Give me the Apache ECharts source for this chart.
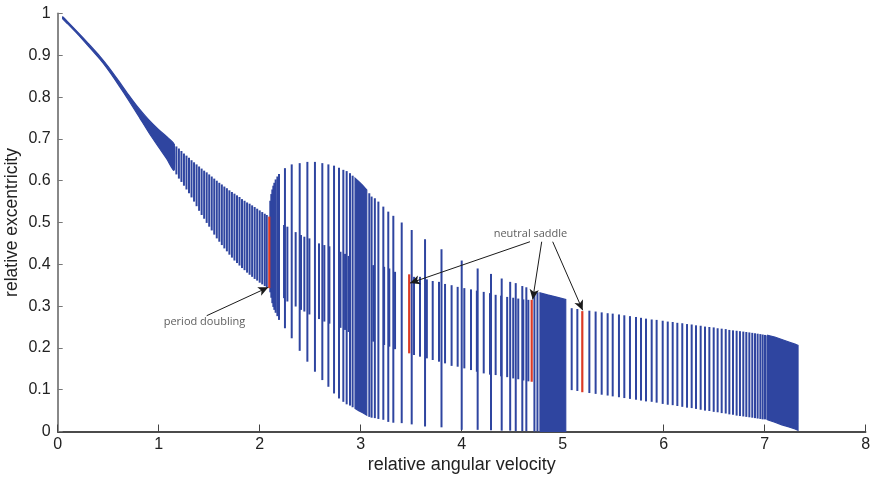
<!DOCTYPE html>
<html><head><meta charset="utf-8">
<script src="https://cdn.jsdelivr.net/npm/echarts@6/dist/echarts.min.js"></script>
<style>html,body{margin:0;padding:0;background:#fff}#c{width:874px;height:480px}</style>
</head><body><div id="c"></div>
<script>
// ---- tick labels ----
const xTickLabels = ['0','1','2','3','4','5','6','7','8'];
const yTickLabels = ['0','0.1','0.2','0.3','0.4','0.5','0.6','0.7','0.8','0.9','1'];

// ---- main branch bars (x, upper, lower) ----
const mainX = [1.150,1.175,1.200,1.225,1.250,1.275,1.300,1.325,1.350,1.375,1.400,1.425,1.450,1.475,1.500,1.525,1.550,1.575,1.600,1.625,1.650,1.675,1.700,1.725,1.750,1.775,1.800,1.825,1.850,1.875,1.900,1.925,1.950,1.975,2.000,2.025,2.050,2.070,
  2.105,2.115,2.125,2.135,2.145,2.158,2.175];
const mainHi = [0.688,0.682,0.677,0.671,0.665,0.660,0.655,0.649,0.644,0.639,0.634,0.629,0.624,0.620,0.615,0.610,0.605,0.600,0.595,0.591,0.586,0.582,0.577,0.573,0.569,0.565,0.561,0.556,0.552,0.548,0.545,0.541,0.537,0.533,0.529,0.525,0.521,0.518,
  0.552,0.568,0.579,0.588,0.595,0.603,0.610];
const mainLo = [0.625,0.615,0.605,0.597,0.588,0.579,0.570,0.560,0.550,0.539,0.528,0.518,0.509,0.499,0.490,0.481,0.471,0.462,0.454,0.446,0.438,0.431,0.423,0.416,0.409,0.403,0.397,0.391,0.386,0.380,0.375,0.370,0.365,0.361,0.356,0.352,0.348,0.345,
  0.333,0.320,0.307,0.298,0.291,0.284,0.276];

// ---- outer (bubble) bars ----
const outerX = [2.191,2.250,2.317,2.396,2.472,2.547,2.620,2.680,2.736,2.785,2.828,2.861,2.894,2.920,3.085,3.108,3.140,3.175,3.224,3.273,3.323,3.406,3.505,3.637,3.800,4.000,4.158,4.290,4.396,4.480,4.535,4.600,4.640,4.720,4.750];
const outerHi = [0.616,0.630,0.639,0.642,0.645,0.645,0.642,0.639,0.636,0.631,0.626,0.623,0.618,0.612,0.570,0.562,0.558,0.550,0.538,0.526,0.516,0.500,0.482,0.460,0.436,0.409,0.390,0.377,0.366,0.358,0.355,0.348,0.345,0.334,0.333];
const outerLo = [0.267,0.247,0.223,0.193,0.167,0.143,0.123,0.107,0.091,0.079,0.071,0.065,0.062,0.058,0.035,0.033,0.032,0.030,0.028,0.023,0.021,0.020,0.017,0.012,0.010,0.004,0.004,0.003,0.002,0.002,0.001,0.001,0.001,0,0];

// ---- inner branch bars ----
const innerX = [2.241,2.274,2.356,2.409,2.442,2.492,2.587,2.640,2.690,2.800,2.845,2.880,3.125,3.232,3.283,3.340,3.528,3.587,3.655,3.713,3.775,3.835,3.900,3.960,4.026,4.092,4.150,4.218,4.280,4.336,4.390,4.450,4.510,4.560,4.610,4.660];
const innerHi = [0.494,0.490,0.477,0.470,0.466,0.462,0.450,0.446,0.443,0.430,0.425,0.420,0.398,0.394,0.390,0.382,0.370,0.370,0.364,0.360,0.358,0.353,0.350,0.346,0.343,0.340,0.337,0.334,0.331,0.327,0.325,0.322,0.320,0.318,0.316,0.315];
const innerLo = [0.319,0.311,0.299,0.291,0.287,0.280,0.269,0.263,0.258,0.248,0.243,0.238,0.215,0.207,0.203,0.197,0.183,0.179,0.175,0.171,0.167,0.163,0.157,0.155,0.151,0.147,0.143,0.139,0.136,0.135,0.132,0.130,0.127,0.125,0.122,0.120];

// ---- tail bars ----
const tailX = [5.089,5.145,5.264,5.326,5.386,5.445,5.495,5.557,5.610,5.666,5.726,5.775,5.825,5.881,5.930,5.990,6.040,6.089,6.135,6.184,6.231,6.277,6.320,6.366,6.409,6.452,6.495,6.534,6.574,6.614,6.650,6.686,6.722,6.755,6.788,6.818,6.848,6.877,6.904,6.930,6.957,6.980,7.003,7.026];
const tailHi = [0.295,0.293,0.289,0.287,0.285,0.283,0.282,0.280,0.278,0.276,0.274,0.272,0.270,0.268,0.267,0.265,0.263,0.262,0.260,0.259,0.257,0.256,0.254,0.253,0.251,0.250,0.249,0.247,0.246,0.245,0.243,0.242,0.241,0.240,0.239,0.238,0.237,0.236,0.235,0.234,0.233,0.232,0.231,0.230];
const tailLo = [0.099,0.097,0.092,0.090,0.088,0.086,0.084,0.082,0.080,0.078,0.076,0.074,0.072,0.071,0.069,0.066,0.064,0.063,0.061,0.059,0.057,0.056,0.054,0.052,0.050,0.049,0.047,0.046,0.044,0.043,0.041,0.040,0.038,0.037,0.036,0.035,0.034,0.033,0.032,0.031,0.030,0.029,0.029,0.028];

// ---- dense (solid) regions ----
const bandAX = [0.05,0.10,0.20,0.30,0.42,0.50,0.60,0.70,0.80,0.90,1.00,1.08,1.15];
const bandAHi = [0.992,0.980,0.955,0.929,0.897,0.873,0.840,0.806,0.774,0.746,0.722,0.705,0.688];
const bandALo = [0.987,0.975,0.950,0.923,0.890,0.865,0.830,0.793,0.755,0.716,0.680,0.652,0.625];
const blockBX = [2.944,2.980,3.020,3.060];
const blockBHi = [0.606,0.598,0.589,0.578];
const blockBLo = [0.055,0.050,0.045,0.039];
const blockCX = [4.775,4.850,4.950,5.030];
const blockCHi = [0.332,0.327,0.321,0.316];
const blockCLo = [0,0,0,0];
const blockDX = [7.03,7.10,7.17,7.24,7.30,7.33];
const blockDHi = [0.230,0.226,0.220,0.214,0.209,0.206];
const blockDLo = [0.028,0.022,0.016,0.011,0.006,0.003];

// ---- highlighted (red) bars ----
const redX = [2.095,3.480,4.693,5.194];
const redHi = [0.514,0.376,0.315,0.288];
const redLo = [0.343,0.187,0.119,0.094];

// ---- annotations ----
const annoText = ['period doubling','neutral saddle'];
const annoPos = [[1.453,0.262],[4.681,0.472]];
const arrowFrom = [[1.475,0.277],[4.676,0.454],[4.792,0.454],[4.901,0.454]];
const arrowTo = [[2.085,0.345],[3.488,0.355],[4.703,0.316],[5.198,0.290]];

const BLUE = '#2f45a0', RED = '#dc3a26';
const FONT = 'Liberation Sans, Arial, sans-serif';

function segSeries(xs, his, los, color, width, z) {
  return {
    type: 'custom', z: z, silent: true,
    data: xs.map((x, i) => [x, los[i], his[i]]),
    encode: { x: 0, y: [1, 2] },
    renderItem: function (params, api) {
      const p1 = api.coord([api.value(0), api.value(1)]);
      const p2 = api.coord([api.value(0), api.value(2)]);
      return { type: 'line', shape: { x1: p1[0], y1: p1[1], x2: p2[0], y2: p2[1] },
        style: { stroke: color, lineWidth: width } };
    }
  };
}
const blocks = [[bandAX, bandAHi, bandALo], [blockBX, blockBHi, blockBLo], [blockCX, blockCHi, blockCLo], [blockDX, blockDHi, blockDLo]];
const blockSeries = {
  type: 'custom', z: 2, silent: true,
  data: blocks.map((b, i) => [i, b[0][0], b[2][0]]),
  encode: { x: 1, y: 2 },
  renderItem: function (params, api) {
    const idx = api.value(0);
    const b = blocks[idx];
    const pts = [];
    for (let i = 0; i < b[0].length; i++) pts.push(api.coord([b[0][i], b[1][i]]));
    for (let i = b[0].length - 1; i >= 0; i--) pts.push(api.coord([b[0][i], b[2][i]]));
    return { type: 'polygon', shape: { points: pts, smooth: idx === 0 ? 0.2 : 0 },
      style: { fill: BLUE, stroke: BLUE, lineWidth: 1.2 } };
  }
};

const chart = echarts.init(document.getElementById('c'), null, { renderer: 'canvas' });
chart.setOption({
  animation: false,
  backgroundColor: '#fff',
  grid: { left: 57.7, right: 8.3, top: 13.5, bottom: 48.5, containLabel: false, outerBoundsMode: 'none' },
  xAxis: {
    type: 'value', min: 0, max: 8, interval: 1,
    name: 'relative angular velocity', nameLocation: 'middle', nameGap: 25, nameMoveOverlap: false,
    nameTextStyle: { fontSize: 18, color: '#222', fontFamily: FONT },
    axisLine: { lineStyle: { color: '#111', width: 1.5 } },
    axisTick: { inside: true, length: 7, lineStyle: { color: '#444', width: 1 } },
    axisLabel: { fontSize: 16, color: '#222', margin: 5, fontFamily: FONT, formatter: (v) => xTickLabels[Math.round(v)] },
    splitLine: { show: false }
  },
  yAxis: {
    type: 'value', min: 0, max: 1, interval: 0.1,
    name: 'relative excentricity', nameLocation: 'middle', nameGap: 37, nameMoveOverlap: false,
    nameTextStyle: { fontSize: 17.5, color: '#222', fontFamily: FONT },
    axisLine: { show: true, lineStyle: { color: '#888', width: 2 } },
    axisTick: { show: true, inside: true, length: 5, lineStyle: { color: '#777', width: 1 } },
    axisLabel: { fontSize: 16, color: '#222', margin: 7, fontFamily: FONT, formatter: (v) => yTickLabels[Math.round(v * 10)] },
    splitLine: { show: false }
  },
  series: [
    blockSeries,
    segSeries(mainX, mainHi, mainLo, BLUE, 2, 3),
    segSeries(outerX, outerHi, outerLo, BLUE, 2, 3),
    segSeries(innerX, innerHi, innerLo, BLUE, 2, 3),
    segSeries(tailX, tailHi, tailLo, BLUE, 2, 3),
    Object.assign(segSeries(redX, redHi, redLo, RED, 2.2, 4), {
      markLine: {
        silent: true, symbol: ['none', 'arrow'], symbolSize: [7, 10],
        label: { show: false },
        lineStyle: { color: '#1a1a1a', width: 1, type: 'solid' },
        data: arrowFrom.map((f, i) => [{ coord: f }, { coord: arrowTo[i] }])
      }
    }),
    {
      type: 'scatter', z: 6, silent: true, symbolSize: 0, itemStyle: { color: 'rgba(0,0,0,0)' },
      data: annoPos.map((p, i) => ({ value: p, name: annoText[i] })),
      label: { show: true, position: 'inside', formatter: (p) => p.name, fontSize: 11, color: '#333', fontFamily: 'Open Sans, Liberation Sans, sans-serif' }
    }
  ]
});
</script></body></html>
